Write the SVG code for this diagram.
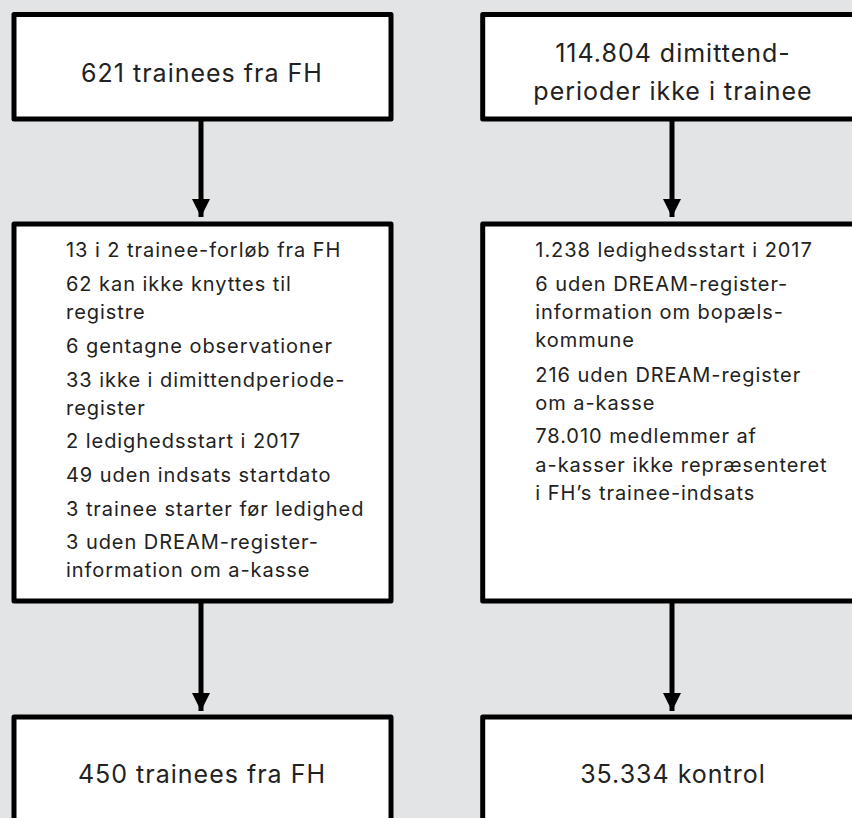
<svg xmlns="http://www.w3.org/2000/svg" width="852" height="818" viewBox="0 0 852 818">
<defs>
<style>
.box{fill:#fff;stroke:#000;stroke-width:5;stroke-linejoin:round}
.big{font-family:Inter,"Noto Sans",sans-serif;font-size:25px;letter-spacing:1px;fill:#222;text-anchor:middle}
.small{font-family:Inter,"Noto Sans",sans-serif;font-size:20px;letter-spacing:0.95px;fill:#222}
.conn{stroke:#000;stroke-width:5;fill:none}
</style>
<marker id="ah" markerUnits="userSpaceOnUse" markerWidth="18" markerHeight="18" viewBox="0 0 18 18" refX="18" refY="9" orient="auto">
<path d="M0,0 L18,9 L0,18 Z" fill="#000"/>
</marker>
</defs>
<rect width="852" height="818" fill="#e3e4e6"/>
<g id="connectors">
<line class="conn" x1="201" y1="121" x2="201" y2="217" marker-end="url(#ah)"/>
<line class="conn" x1="672" y1="121" x2="672" y2="217" marker-end="url(#ah)"/>
<line class="conn" x1="201" y1="603" x2="201" y2="711" marker-end="url(#ah)"/>
<line class="conn" x1="672" y1="603" x2="672" y2="711" marker-end="url(#ah)"/>
</g>
<g id="n1">
<rect class="box" x="14" y="14.5" width="377" height="104.5"/>
<text class="big" x="202" y="82">621 trainees fra FH</text>
</g>
<g id="n2">
<rect class="box" x="482.7" y="14.5" width="377" height="104.5"/>
<text class="big" x="673" y="62">114.804 dimittend-</text>
<text class="big" x="673" y="100">perioder ikke i trainee</text>
</g>
<g id="n3">
<rect class="box" x="14" y="224" width="377" height="377"/>
<text class="small">
<tspan x="66" y="256.7">13 i 2 trainee-forløb fra FH</tspan>
<tspan x="66" y="290.7">62 kan ikke knyttes til</tspan>
<tspan x="66" y="319">registre</tspan>
<tspan x="66" y="352.7">6 gentagne observationer</tspan>
<tspan x="66" y="386.7">33 ikke i dimittendperiode-</tspan>
<tspan x="66" y="414.7">register</tspan>
<tspan x="66" y="448.3">2 ledighedsstart i 2017</tspan>
<tspan x="66" y="481.7">49 uden indsats startdato</tspan>
<tspan x="66" y="515.7">3 trainee starter før ledighed</tspan>
<tspan x="66" y="549.3">3 uden DREAM-register-</tspan>
<tspan x="66" y="577.3">information om a-kasse</tspan>
</text>
</g>
<g id="n4">
<rect class="box" x="482.7" y="224" width="377" height="377"/>
<text class="small">
<tspan x="535.3" y="256.7">1.238 ledighedsstart i 2017</tspan>
<tspan x="535.3" y="290.7">6 uden DREAM-register-</tspan>
<tspan x="535.3" y="319">information om bopæls-</tspan>
<tspan x="535.3" y="347.3">kommune</tspan>
<tspan x="535.3" y="381.7">216 uden DREAM-register</tspan>
<tspan x="535.3" y="410">om a-kasse</tspan>
<tspan x="535.3" y="442.7">78.010 medlemmer af</tspan>
<tspan x="535.3" y="471.7">a-kasser ikke repræsenteret</tspan>
<tspan x="535.3" y="500">i FH’s trainee-indsats</tspan>
</text>
</g>
<g id="n5">
<rect class="box" x="14" y="717" width="377" height="120"/>
<text class="big" x="202" y="783">450 trainees fra FH</text>
</g>
<g id="n6">
<rect class="box" x="482.7" y="717" width="377" height="120"/>
<text class="big" x="673" y="783">35.334 kontrol</text>
</g>
</svg>
